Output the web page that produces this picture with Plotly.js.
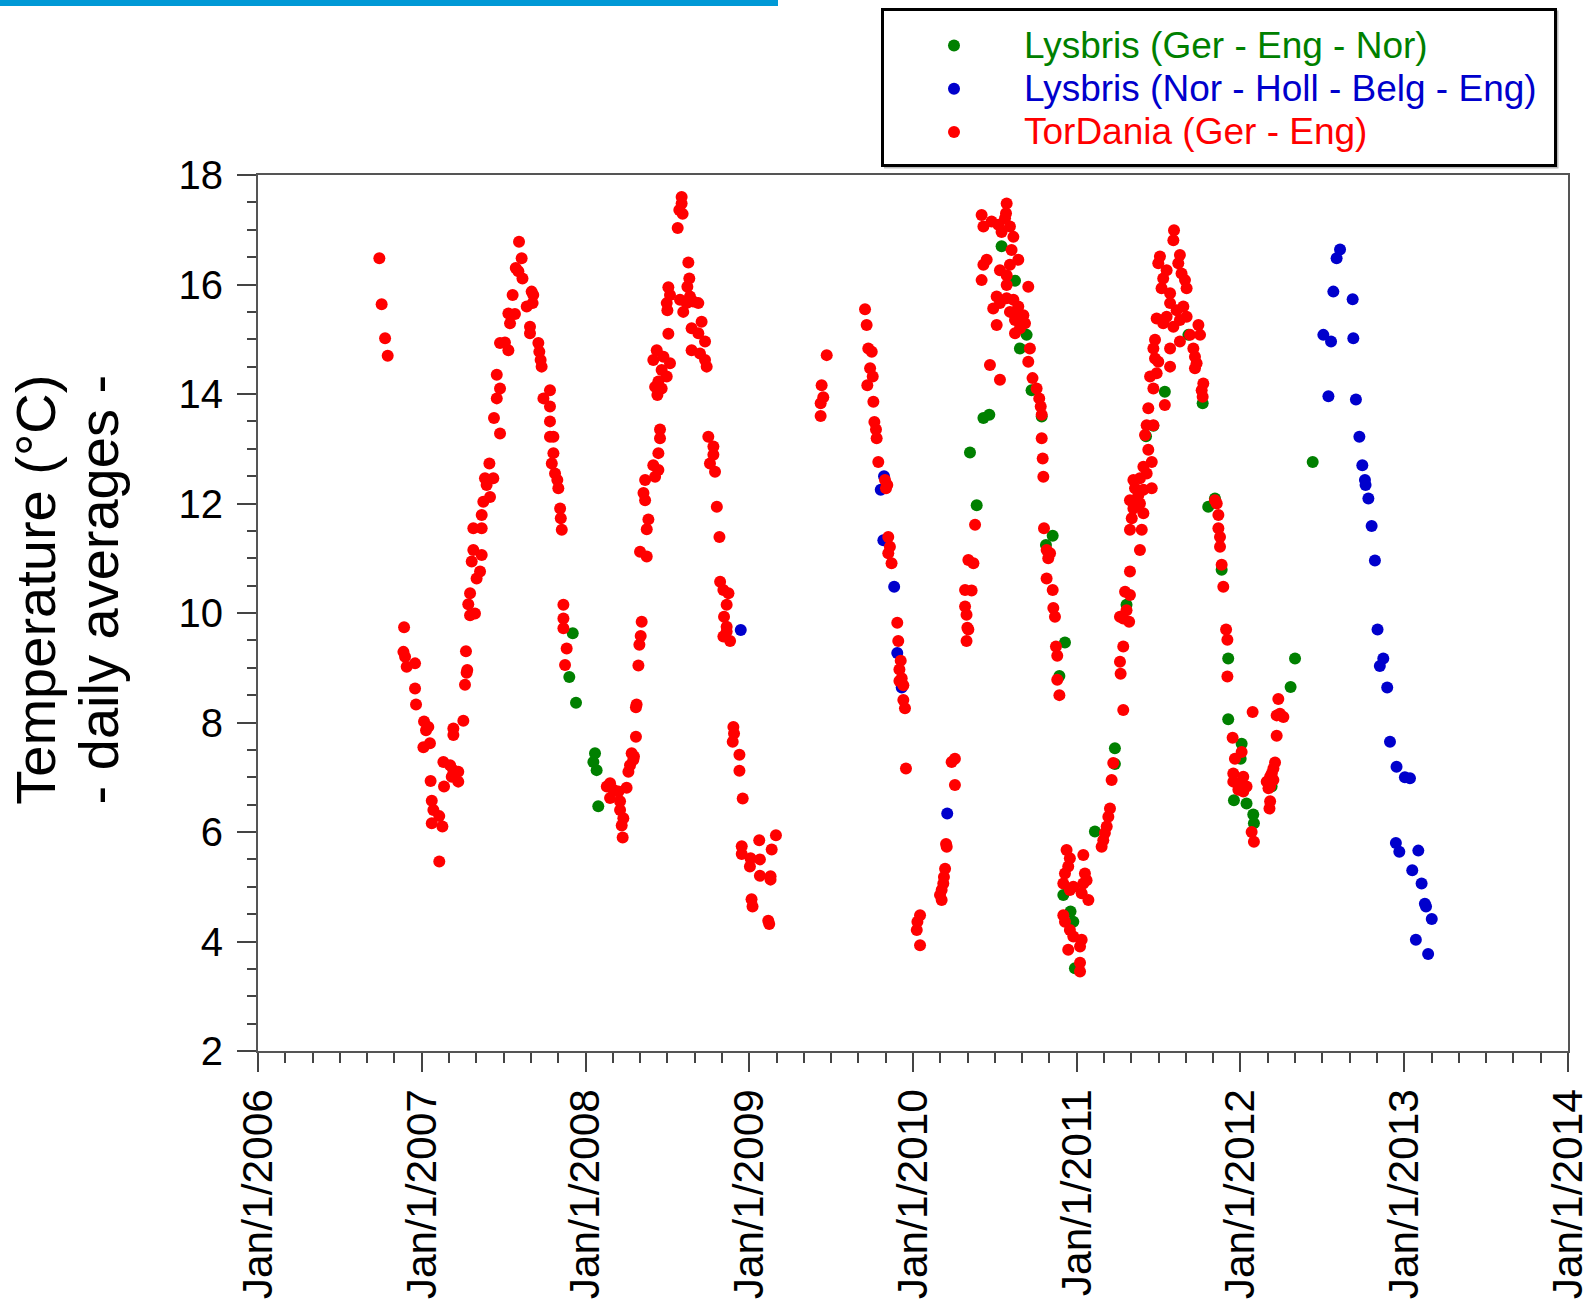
<!DOCTYPE html>
<html>
<head>
<meta charset="utf-8">
<script src="https://cdn.plot.ly/plotly-3.0.1.min.js"></script>
<style>
  html, body { margin: 0; padding: 0; background: #ffffff; }
  #chart { width: 1588px; height: 1302px; }
</style>
</head>
<body>
<div id="chart"></div>
<script>
// ---- Series names ----
var seriesNames = ['Lysbris (Ger - Eng - Nor)', 'Lysbris (Nor - Holl - Belg - Eng)', 'TorDania (Ger - Eng)'];

// ---- Axis ticks ----
var yearTicks = [2006, 2007, 2008, 2009, 2010, 2011, 2012, 2013, 2014];
var yearLabels = ['Jan/1/2006', 'Jan/1/2007', 'Jan/1/2008', 'Jan/1/2009', 'Jan/1/2010',
                  'Jan/1/2011', 'Jan/1/2012', 'Jan/1/2013', 'Jan/1/2014'];

// ---- Lysbris (Ger - Eng - Nor): time in decimal years, daily average temperature (°C) ----
var greenYear = [
  2007.922, 2007.901, 2007.942, 2008.058, 2008.048, 2008.068, 2008.078,
  2010.348, 2010.389, 2010.430, 2010.466, 2010.541, 2010.623, 2010.694, 2010.653, 2010.724, 2010.786,
  2010.853, 2010.812, 2010.928, 2010.894, 2010.918, 2010.962, 2010.979, 2010.989,
  2011.111, 2011.233, 2011.233, 2011.304, 2011.423, 2011.468, 2011.538, 2011.682, 2011.769,
  2011.844, 2011.803, 2011.885,
  2011.925, 2011.925, 2012.007, 2012.001, 2011.960, 2012.037, 2012.078, 2012.082, 2012.190,
  2012.306, 2012.333, 2012.441
];
var greenTemp = [
  9.63, 8.83, 8.36, 7.44, 7.28, 7.13, 6.47,
  12.93, 11.97, 13.56, 13.62, 16.70, 16.07, 15.08, 14.83, 14.07, 13.59,
  11.41, 11.24, 9.46, 8.85, 4.85, 4.55, 4.36, 3.51,
  6.01, 7.53, 7.24, 10.15, 13.23, 13.42, 14.04, 15.08, 13.83,
  12.09, 11.94, 10.79,
  9.17, 8.06, 7.61, 7.34, 6.58, 6.52, 6.32, 6.16, 6.83,
  8.65, 9.17, 12.76
];

// ---- Lysbris (Nor - Holl - Belg - Eng) ----
var blueYear = [
  2008.948,
  2009.823, 2009.803, 2009.819, 2009.885, 2009.904, 2009.931, 2010.209,
  2012.608, 2012.587, 2012.567, 2012.685, 2012.506, 2012.553, 2012.689, 2012.537, 2012.705,
  2012.726, 2012.744, 2012.760, 2012.764, 2012.781, 2012.801, 2012.821,
  2012.837, 2012.872, 2012.851, 2012.896, 2012.913, 2012.953, 2013.004, 2013.035,
  2012.949, 2012.970, 2013.086, 2013.049, 2013.106, 2013.126, 2013.133, 2013.168,
  2013.071, 2013.146
];
var blueTemp = [
  9.69,
  12.50, 12.25, 11.33, 10.48, 9.27, 8.64, 6.34,
  16.64, 16.48, 15.87, 15.73, 15.08, 14.96, 15.02, 13.96, 13.90,
  13.22, 12.70, 12.43, 12.34, 12.09, 11.59, 10.96,
  9.70, 9.17, 9.03, 8.64, 7.65, 7.19, 7.00, 6.98,
  5.80, 5.64, 5.66, 5.30, 5.06, 4.69, 4.64, 4.41,
  4.03, 3.77
];

// ---- TorDania (Ger - Eng) ----
var redYear = [
  // autumn 2006
  2006.741, 2006.755, 2006.776, 2006.792,
  // winter 2006/07
  2006.892, 2006.888, 2006.898, 2006.908, 2006.959, 2006.959, 2006.965, 2007.014, 2007.040, 2007.026,
  2007.050, 2007.010, 2007.054, 2007.061, 2007.071, 2007.107, 2007.061, 2007.126, 2007.107,
  2007.132, 2007.173, 2007.193, 2007.223, 2007.223, 2007.136, 2007.183, 2007.193, 2007.193,
  2007.254, 2007.264, 2007.274, 2007.278, 2007.270, 2007.295, 2007.325, 2007.284,
  // spring/summer 2007
  2007.295, 2007.315, 2007.366, 2007.305, 2007.356, 2007.335, 2007.315, 2007.366, 2007.366,
  2007.386, 2007.437, 2007.396, 2007.417, 2007.376, 2007.413, 2007.441, 2007.478, 2007.458,
  2007.478, 2007.458, 2007.478, 2007.508, 2007.529, 2007.529, 2007.569, 2007.539, 2007.555,
  2007.574, 2007.590, 2007.615, 2007.594, 2007.610, 2007.671, 2007.681, 2007.677, 2007.641,
  2007.661, 2007.661, 2007.712, 2007.718, 2007.726, 2007.732, 2007.783, 2007.743, 2007.783,
  2007.783, 2007.804, 2007.783, 2007.804, 2007.794, 2007.814, 2007.828, 2007.834, 2007.845,
  2007.849, 2007.855, 2007.865, 2007.865, 2007.865, 2007.885, 2007.875,
  // winter 2007/08
  2008.343, 2008.337, 2008.329, 2008.323, 2008.312, 2008.308, 2008.308, 2008.282, 2008.292,
  2008.272, 2008.262, 2008.296, 2008.150, 2008.130, 2008.170, 2008.201, 2008.251, 2008.150,
  2008.211, 2008.211, 2008.231, 2008.221, 2008.227,
  // spring/summer 2008
  2008.333, 2008.374, 2008.384, 2008.374, 2008.354, 2008.364, 2008.445, 2008.414, 2008.445,
  2008.364, 2008.425, 2008.455, 2008.455, 2008.435, 2008.476, 2008.516, 2008.414, 2008.465,
  2008.496, 2008.445, 2008.425, 2008.465, 2008.439, 2008.506, 2008.506, 2008.516, 2008.496,
  2008.500, 2008.577, 2008.617, 2008.658, 2008.689, 2008.597, 2008.638, 2008.587, 2008.587,
  2008.573, 2008.593, 2008.563, 2008.628, 2008.634, 2008.622, 2008.709, 2008.648, 2008.689,
  2008.730, 2008.648, 2008.699, 2008.730, 2008.740, 2008.750, 2008.781, 2008.781, 2008.760,
  2008.791, 2008.802, 2008.818, 2008.822, 2008.842, 2008.873, 2008.862,
  // winter 2008/09
  2008.846, 2008.862, 2008.842, 2008.883, 2008.862, 2008.903, 2008.907, 2008.899, 2008.940,
  2008.940, 2008.960, 2008.954, 2008.954, 2009.008, 2009.004, 2009.065, 2009.061, 2009.137,
  2009.163, 2009.065, 2009.130, 2009.130, 2009.014, 2009.020, 2009.116, 2009.122,
  // summer/autumn 2009
  2009.473, 2009.442, 2009.452, 2009.436, 2009.436, 2009.707, 2009.717, 2009.727, 2009.748,
  2009.738, 2009.754, 2009.721, 2009.758, 2009.764, 2009.774, 2009.778, 2009.788, 2009.829,
  2009.843, 2009.835, 2009.849, 2009.859, 2009.849, 2009.869,
  // winter 2009/10
  2009.904, 2009.910, 2009.925, 2009.917, 2009.931, 2009.917, 2009.941, 2009.941, 2009.951,
  2009.957, 2010.043, 2010.027, 2010.023, 2010.043, 2010.175, 2010.175, 2010.185, 2010.165,
  2010.189, 2010.196, 2010.206, 2010.202, 2010.256, 2010.236, 2010.256, 2010.327, 2010.332,
  2010.327, 2010.338,
  // spring/summer 2010
  2010.318, 2010.318, 2010.358, 2010.338, 2010.369, 2010.379, 2010.470, 2010.531, 2010.572,
  2010.568, 2010.419, 2010.430, 2010.480, 2010.521, 2010.592, 2010.613, 2010.541, 2010.562,
  2010.602, 2010.643, 2010.450, 2010.430, 2010.531, 2010.592, 2010.572, 2010.419, 2010.572,
  2010.704, 2010.511, 2010.490, 2010.531, 2010.572, 2010.613, 2010.643, 2010.674, 2010.633,
  2010.684, 2010.623, 2010.592, 2010.511, 2010.623, 2010.653, 2010.714, 2010.704, 2010.730,
  2010.755, 2010.771, 2010.780, 2010.786, 2010.786, 2010.792, 2010.796, 2010.800, 2010.816,
  2010.826, 2010.837, 2010.816, 2010.853, 2010.857,
  // autumn/winter 2010/11
  2010.867, 2010.873, 2010.881, 2010.881, 2010.894, 2010.938, 2010.958, 2010.948, 2010.928,
  2010.918, 2010.958, 2010.979, 2011.040, 2011.050, 2011.060, 2011.040, 2011.071, 2011.030,
  2010.918, 2010.928, 2010.958, 2010.979, 2011.030, 2011.020, 2010.948, 2011.020, 2011.020,
  // spring 2011
  2011.152, 2011.162, 2011.172, 2011.183, 2011.193, 2011.203, 2011.213, 2011.223, 2011.284,
  2011.268, 2011.264, 2011.284, 2011.284, 2011.320, 2011.264, 2011.304,
  2011.325, 2011.295, 2011.325, 2011.386, 2011.397, 2011.325, 2011.336, 2011.407, 2011.346,
  2011.386, 2011.325, 2011.376, 2011.407, 2011.356, 2011.458, 2011.346, 2011.386, 2011.427,
  2011.407, 2011.458, 2011.437, 2011.417, 2011.427, 2011.468, 2011.437, 2011.538,
  // summer 2011
  2011.468, 2011.448, 2011.488, 2011.478, 2011.498, 2011.570, 2011.468, 2011.478, 2011.570,
  2011.630, 2011.692, 2011.753, 2011.743, 2011.590, 2011.528, 2011.488, 2011.630, 2011.549,
  2011.671, 2011.651, 2011.610, 2011.570, 2011.570, 2011.518, 2011.528, 2011.671, 2011.661,
  2011.640, 2011.620, 2011.630, 2011.549, 2011.498, 2011.508, 2011.590, 2011.594,
  2011.712, 2011.722, 2011.732, 2011.722, 2011.773, 2011.763, 2011.769,
  // autumn 2011
  2011.844, 2011.855, 2011.865, 2011.865, 2011.875, 2011.875, 2011.885, 2011.895,
  // winter 2011/12
  2011.912, 2011.920, 2011.920, 2011.952, 2012.007, 2011.966, 2011.956, 2011.956, 2012.017,
  2011.997, 2012.037, 2011.987, 2012.017, 2012.068, 2012.082, 2012.074,
  2012.231, 2012.241, 2012.221, 2012.262, 2012.221, 2012.211, 2012.201, 2012.191, 2012.181,
  2012.160, 2012.201, 2012.181, 2012.171, 2012.181, 2012.177
];
var redTemp = [
  16.48, 15.64, 15.02, 14.70,
  9.74, 9.29, 9.20, 9.02, 9.08, 8.62, 8.33, 8.02, 7.92, 7.86,
  7.62, 7.55, 6.93, 6.57, 6.40, 6.29, 6.16, 6.10, 5.46,
  7.28, 7.22, 7.13, 7.10, 6.92, 6.83, 7.01, 7.89, 7.77,
  8.03, 8.69, 8.91, 8.96, 9.30, 9.96, 9.99, 10.16,
  10.36, 11.15, 11.06, 10.94, 10.76, 10.63, 11.55, 11.55, 11.79,
  12.46, 12.46, 12.34, 12.12, 12.03, 12.73, 13.56, 13.28, 14.35,
  14.10, 13.92, 14.93, 14.94, 14.80, 15.47, 15.46, 15.29, 15.81,
  16.30, 16.24, 16.11, 16.78, 16.48, 15.87, 15.81, 15.66, 15.60,
  15.23, 15.11, 14.93, 14.77, 14.62, 14.50, 14.07, 13.92, 13.77,
  13.50, 13.22, 13.22, 12.92, 12.73, 12.55, 12.43, 12.28, 11.91,
  11.73, 11.52, 10.15, 9.90, 9.72, 9.35, 9.05,
  9.84, 9.58, 9.42, 9.04, 8.33, 8.28, 7.74, 7.44, 7.32,
  7.22, 7.10, 7.38, 6.89, 6.83, 6.77, 6.74, 6.81, 6.62,
  6.56, 6.40, 6.25, 6.12, 5.90,
  11.12, 11.03, 11.71, 11.53, 12.19, 12.06, 12.92, 12.70, 12.61,
  12.43, 12.49, 13.35, 13.19, 14.80, 14.68, 14.56, 14.62, 14.44,
  14.32, 14.23, 14.13, 14.10, 13.98, 15.10, 15.95, 15.81, 15.66,
  15.53, 15.72, 15.66, 15.69, 15.66, 15.50, 15.78, 17.60, 17.48,
  17.36, 17.29, 17.03, 16.40, 16.11, 15.96, 15.32, 15.20, 15.11,
  14.96, 14.80, 14.74, 14.62, 14.50, 13.22, 13.04, 12.89, 12.73,
  12.58, 11.94, 11.39, 10.57, 10.42, 10.36, 10.15,
  9.93, 9.75, 9.57, 9.49, 9.66, 7.92, 7.80, 7.65, 7.41,
  7.12, 6.61, 5.74, 5.60, 5.52, 5.37, 5.50, 5.85, 5.68,
  5.94, 5.20, 5.19, 5.13, 4.77, 4.64, 4.38, 4.32,
  14.71, 14.16, 13.94, 13.83, 13.60, 15.55, 15.26, 14.83, 14.77,
  14.47, 14.32, 14.16, 13.86, 13.49, 13.35, 13.19, 12.76, 12.43,
  12.34, 12.28, 11.39, 11.21, 11.09, 10.91,
  9.82, 9.49, 9.13, 8.97, 8.81, 8.76, 8.68, 8.41, 8.26,
  7.16, 4.48, 4.36, 4.21, 3.93, 4.94, 4.76, 5.06, 4.85,
  5.18, 5.33, 5.73, 5.78, 6.86, 7.28, 7.34, 9.97, 9.73,
  9.49, 9.70,
  10.12, 10.42, 10.41, 10.97, 10.91, 11.61, 14.53, 14.26, 17.48,
  17.30, 17.27, 17.06, 17.15, 17.09, 17.06, 16.87, 16.96, 17.21,
  16.63, 16.45, 16.45, 16.36, 16.26, 16.36, 16.17, 16.08, 15.99,
  15.96, 15.78, 15.56, 15.66, 15.75, 15.72, 15.60, 15.44, 15.41,
  15.29, 15.35, 15.50, 15.26, 15.11, 15.20, 14.83, 14.59, 14.29,
  14.10, 13.92, 13.77, 13.62, 13.19, 12.82, 12.49, 11.55, 11.15,
  11.00, 11.09, 10.63, 10.42, 10.09,
  9.93, 9.39, 9.22, 8.78, 8.50, 5.67, 5.52, 5.37, 5.24,
  5.06, 4.94, 5.00, 5.58, 5.24, 5.12, 5.06, 4.76, 4.88,
  4.48, 4.36, 4.21, 4.09, 4.03, 3.91, 3.85, 3.61, 3.45,
  5.73, 5.85, 5.98, 6.10, 6.28, 6.43, 6.95, 7.26, 8.23,
  8.89, 9.11, 9.39, 9.90, 9.84, 9.93, 10.05,
  10.33, 10.39, 10.76, 11.15, 11.52, 11.52, 11.73, 11.82, 11.91,
  12.00, 12.06, 12.15, 12.25, 12.28, 12.28, 12.43, 12.46, 12.55,
  12.67, 12.76, 12.98, 13.25, 13.43, 13.43, 13.74, 13.80,
  14.10, 14.32, 14.38, 14.65, 14.59, 14.50, 14.83, 14.99, 14.83,
  14.96, 15.08, 15.08, 15.26, 15.23, 15.29, 15.38, 15.35, 15.41,
  15.41, 15.60, 15.53, 15.66, 15.84, 15.93, 16.11, 15.93, 16.08,
  16.20, 16.39, 16.54, 16.26, 16.39, 16.51, 16.81, 16.99,
  14.83, 14.68, 14.56, 14.47, 14.19, 14.07, 13.95,
  12.06, 12.00, 11.79, 11.55, 11.39, 11.21, 10.88, 10.48,
  9.70, 9.51, 8.84, 7.72, 7.46, 7.34, 7.07, 6.92, 7.01,
  6.89, 6.83, 6.77, 6.74, 6.00, 5.82, 8.19,
  8.43, 8.16, 8.13, 8.10, 7.76, 7.27, 7.16, 7.07, 7.01,
  6.92, 6.95, 6.83, 6.80, 6.56, 6.43
];

var seriesColors = ['#008000', '#0000cc', '#ff0000'];
var FONT = '"Liberation Sans", Arial, Helvetica, sans-serif';

function styledName(i) {
  return '<span style="color:' + seriesColors[i] + ';font-size:37px">' + seriesNames[i] + '</span>';
}

var traces = [
  {x: greenYear, y: greenTemp, name: styledName(0)},
  {x: blueYear, y: blueTemp, name: styledName(1)},
  {x: redYear, y: redTemp, name: styledName(2)}
].map(function (t, i) {
  t.type = 'scatter';
  t.mode = 'markers';
  t.marker = {color: seriesColors[i], size: 12, line: {width: 0}};
  t.hoverinfo = 'x+y';
  return t;
});

var axisCommon = {
  showline: true, mirror: true, linecolor: '#555555', linewidth: 2,
  showgrid: false, zeroline: false,
  ticks: 'outside', ticklen: 19, tickwidth: 2, tickcolor: '#444444'
};

var yTitleLines = ['Temperature (°C)', '- daily averages -'];

var layout = {
  width: 1588, height: 1302,
  margin: {l: 258, r: 20, t: 175, b: 251, pad: 0, autoexpand: false},
  paper_bgcolor: '#ffffff', plot_bgcolor: '#ffffff',
  font: {family: FONT, color: '#000000'},
  showlegend: true,
  xaxis: Object.assign({}, axisCommon, {
    range: [2005.9999, 2014.0001],
    tickmode: 'array', tickvals: yearTicks, ticktext: yearLabels,
    tickangle: -90,
    ticklabeloverflow: 'allow',
    tickfont: {family: FONT, size: 42.5, color: '#000000'},
    minor: {tickmode: 'linear', tick0: 2006, dtick: 1 / 6, ticks: 'outside', ticklen: 10, tickwidth: 1.5, tickcolor: '#444444'}
  }),
  yaxis: Object.assign({}, axisCommon, {
    range: [2, 18],
    tickmode: 'linear', tick0: 2, dtick: 2,
    tickfont: {family: FONT, size: 40, color: '#000000'},
    ticklabelstandoff: 6,
    minor: {tickmode: 'linear', tick0: 2, dtick: 0.5, ticks: 'outside', ticklen: 9, tickwidth: 1.5, tickcolor: '#444444'},
    title: {
      text: yTitleLines.map(function (s) {
        return '<span style="font-size:56px">&nbsp;&nbsp;&nbsp;' + s + '</span>';
      }).join('<br>'),
      font: {family: FONT, size: 48, color: '#000000'},
      standoff: 45
    }
  }),
  legend: {
    x: 0.47786, y: 1.18721, xanchor: 'left', yanchor: 'top',
    bgcolor: 'rgba(0,0,0,0)', borderwidth: 0,
    font: {family: FONT, size: 31},
    title: {text: '&nbsp;', font: {size: 6}},
    itemwidth: 130,
    itemclick: false, itemdoubleclick: false
  },
  shapes: [
    // blue header bar at the top-left of the figure
    {
      type: 'rect', xref: 'paper', yref: 'paper',
      xsizemode: 'pixel', ysizemode: 'pixel', xanchor: 0, yanchor: 1,
      x0: -258, x1: 520, y0: 169, y1: 175,
      fillcolor: '#0099d6', line: {width: 0}, layer: 'above'
    },
    // faint shadow of the legend frame
    {
      type: 'rect', xref: 'paper', yref: 'paper',
      xsizemode: 'pixel', ysizemode: 'pixel', xanchor: 0, yanchor: 1,
      x0: 627, x1: 1299.5, y0: 7.5, y1: 163.5,
      fillcolor: 'rgba(0,0,0,0)', line: {color: '#bbbbbb', width: 2}, layer: 'below'
    },
    // legend frame
    {
      type: 'rect', xref: 'paper', yref: 'paper',
      xsizemode: 'pixel', ysizemode: 'pixel', xanchor: 0, yanchor: 1,
      x0: 624.5, x1: 1297.5, y0: 9.5, y1: 165.5,
      fillcolor: '#ffffff', line: {color: '#000000', width: 3}, layer: 'below'
    }
  ]
};

Plotly.newPlot('chart', traces, layout, {displayModeBar: false});
</script>
</body>
</html>
